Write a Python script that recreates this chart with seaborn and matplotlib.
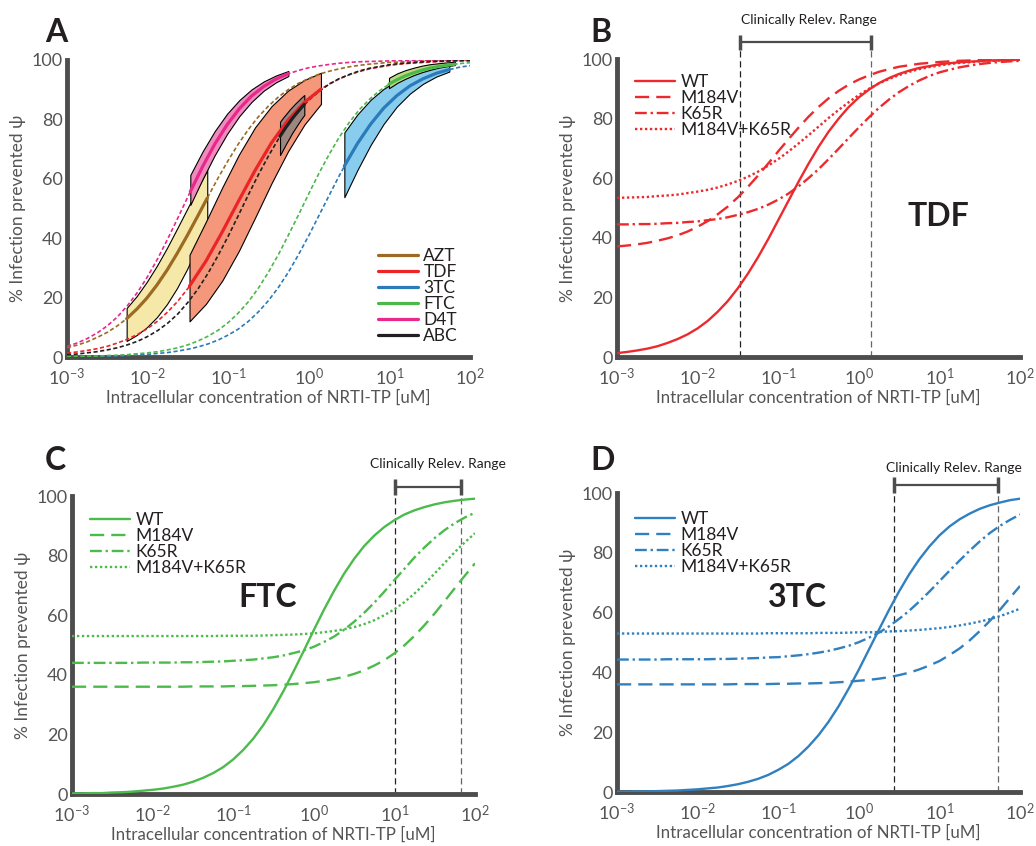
import numpy as np
import pandas as pd
import matplotlib
matplotlib.use('Agg')
import matplotlib.pyplot as plt
import seaborn as sns
from matplotlib.ticker import LogLocator, NullFormatter

# ---------------- data ----------------
log_conc = [-3.0, -2.875, -2.75, -2.625, -2.5, -2.375, -2.25, -2.125, -2.0, -1.875,
            -1.75, -1.625, -1.5, -1.375, -1.25, -1.125, -1.0, -0.875, -0.75, -0.625,
            -0.5, -0.375, -0.25, -0.125, 0.0, 0.125, 0.25, 0.375, 0.5, 0.625,
            0.75, 0.875, 1.0, 1.125, 1.25, 1.375, 1.5, 1.625, 1.75, 1.875, 2.0]

# Panel A: wild-type dose-response of each NRTI (% infection prevented)
azt_curve = [3.1, 4.0, 5.1, 6.6, 8.3, 10.5, 13.1, 16.3, 20.1, 24.6, 29.6, 35.2, 41.3, 47.6, 54.0, 60.3,
             66.2, 71.7, 76.6, 80.9, 84.5, 87.6, 90.1, 92.2, 93.8, 95.2, 96.2, 97.0, 97.7, 98.2, 98.6,
             98.9, 99.2, 99.3, 99.5, 99.6, 99.7, 99.8, 99.8, 99.9, 99.9]
tdf_curve = [1.3, 1.7, 2.2, 2.8, 3.6, 4.7, 6.0, 7.6, 9.6, 12.1, 15.2, 18.8, 23.1, 28.0, 33.5, 39.5,
             45.9, 52.3, 58.7, 64.8, 70.5, 75.6, 80.0, 83.9, 87.1, 89.7, 91.9, 93.6, 95.0, 96.1, 97.0,
             97.6, 98.2, 98.6, 98.9, 99.1, 99.3, 99.5, 99.6, 99.7, 99.8]
tc3_curve = [0.1, 0.1, 0.2, 0.2, 0.3, 0.4, 0.5, 0.7, 0.9, 1.2, 1.5, 2.0, 2.6, 3.4, 4.4, 5.7,
             7.4, 9.4, 12.0, 15.2, 19.0, 23.5, 28.7, 34.6, 40.9, 47.6, 54.3, 60.9, 67.1, 72.8, 77.8,
             82.1, 85.8, 88.8, 91.2, 93.1, 94.7, 95.9, 96.8, 97.6, 98.1]
ftc_curve = [0.2, 0.2, 0.3, 0.3, 0.5, 0.6, 0.8, 1.1, 1.4, 1.8, 2.4, 3.1, 4.1, 5.4, 7.0, 9.0,
             11.6, 14.8, 18.6, 23.2, 28.6, 34.6, 41.2, 48.0, 55.0, 61.8, 68.1, 73.9, 78.9, 83.2, 86.7,
             89.6, 91.9, 93.8, 95.2, 96.3, 97.2, 97.9, 98.4, 98.8, 99.1]
d4t_curve = [3.6, 4.7, 6.2, 8.1, 10.5, 13.5, 17.3, 21.8, 27.1, 33.1, 39.8, 46.8, 54.0, 61.0, 67.6, 73.6,
             78.8, 83.2, 86.9, 89.8, 92.2, 94.0, 95.4, 96.5, 97.4, 98.0, 98.5, 98.9, 99.2, 99.4, 99.5,
             99.6, 99.7, 99.8, 99.8, 99.9, 99.9, 99.9, 100.0, 100.0, 100.0]
abc_curve = [0.8, 1.0, 1.4, 1.8, 2.4, 3.1, 4.1, 5.3, 6.9, 8.9, 11.4, 14.5, 18.4, 22.9, 28.2, 34.2,
             40.7, 47.6, 54.6, 61.4, 67.7, 73.5, 78.6, 82.9, 86.5, 89.4, 91.8, 93.7, 95.1, 96.3, 97.2,
             97.8, 98.4, 98.8, 99.0, 99.3, 99.5, 99.6, 99.7, 99.8, 99.8]

# Panel A: clinically relevant bands (log10 concentration, lower, centre, upper)
azt_band_x = [-2.26, -2.135, -2.01, -1.885, -1.76, -1.635, -1.51, -1.385, -1.26]
azt_band_low = [5.4, 7.4, 10.0, 13.4, 17.8, 23.2, 29.6, 37.0, 45.0]
azt_band_mid = [12.9, 16.1, 19.8, 24.2, 29.2, 34.8, 40.8, 47.1, 53.5]
azt_band_high = [16.5, 20.5, 25.3, 30.7, 36.7, 43.2, 49.8, 56.5, 63.0]
d4t_band_x = [-1.47, -1.318, -1.166, -1.014, -0.862, -0.71, -0.558, -0.406, -0.254]
d4t_band_low = [51.2, 59.9, 68.0, 75.1, 81.1, 85.9, 89.7, 92.5, 94.6]
d4t_band_mid = [55.7, 64.1, 71.7, 78.2, 83.6, 87.9, 91.1, 93.6, 95.4]
d4t_band_high = [61.3, 69.2, 76.1, 81.9, 86.5, 90.1, 92.8, 94.8, 96.3]
tdf_band_x = [-1.48, -1.276, -1.072, -0.868, -0.665, -0.461, -0.257, -0.053, 0.151]
tdf_band_low = [12.0, 17.9, 25.8, 35.7, 47.0, 58.6, 69.3, 78.3, 85.2]
tdf_band_mid = [23.9, 32.3, 42.2, 52.7, 62.9, 72.2, 79.8, 85.8, 90.2]
tdf_band_high = [34.4, 45.6, 57.2, 68.1, 77.4, 84.5, 89.7, 93.3, 95.7]
abc_band_x = [-0.357, -0.319, -0.282, -0.244, -0.207, -0.169, -0.131, -0.094, -0.056]
abc_band_low = [68.0, 69.9, 71.8, 73.6, 75.4, 77.0, 78.6, 80.1, 81.5]
abc_band_mid = [74.3, 75.9, 77.4, 78.8, 80.2, 81.5, 82.7, 83.9, 85.0]
abc_band_high = [79.2, 80.6, 81.8, 83.1, 84.2, 85.3, 86.3, 87.3, 88.2]
tc3_band_x = [0.441, 0.604, 0.767, 0.929, 1.092, 1.255, 1.418, 1.58, 1.743]
tc3_band_low = [53.8, 63.0, 71.4, 78.5, 84.3, 88.7, 92.0, 94.4, 96.1]
tc3_band_mid = [64.3, 71.9, 78.4, 83.8, 88.0, 91.3, 93.7, 95.5, 96.8]
tc3_band_high = [75.6, 81.7, 86.6, 90.3, 93.0, 95.1, 96.5, 97.6, 98.3]
ftc_band_x = [0.995, 1.097, 1.2, 1.302, 1.405, 1.507, 1.609, 1.712, 1.814]
ftc_band_low = [90.5, 92.3, 93.7, 94.9, 95.9, 96.7, 97.4, 97.9, 98.3]
ftc_band_mid = [91.9, 93.4, 94.7, 95.7, 96.6, 97.3, 97.8, 98.2, 98.6]
ftc_band_high = [94.0, 95.5, 96.6, 97.4, 98.1, 98.6, 98.9, 99.2, 99.4]

# Panels B-D: resistant variants
tdf_m184v = [37.1, 37.4, 37.8, 38.3, 39.0, 39.8, 40.8, 42.1, 43.7, 45.6, 47.9, 50.5, 53.6, 57.1, 60.9, 64.9,
             69.0, 73.0, 76.9, 80.6, 83.9, 86.8, 89.3, 91.4, 93.1, 94.5, 95.7, 96.6, 97.4, 97.9, 98.4,
             98.7, 99.0, 99.2, 99.4, 99.5, 99.7, 99.7, 99.8, 99.8, 99.9]
tdf_k65r = [44.5, 44.5, 44.6, 44.6, 44.7, 44.9, 45.0, 45.3, 45.5, 45.9, 46.3, 46.9, 47.7, 48.6, 49.7, 51.1,
            52.8, 54.8, 57.2, 60.0, 63.0, 66.4, 69.9, 73.5, 77.0, 80.4, 83.6, 86.4, 88.9, 91.0, 92.8,
            94.3, 95.5, 96.4, 97.2, 97.8, 98.3, 98.7, 99.0, 99.2, 99.4]
tdf_m184v_k65r = [53.4, 53.5, 53.6, 53.7, 54.0, 54.2, 54.5, 55.0, 55.5, 56.1, 56.9, 57.9, 59.1, 60.5, 62.2,
                  64.2, 66.4, 68.9, 71.6, 74.4, 77.3, 80.2, 82.9, 85.5, 87.9, 90.0, 91.8, 93.3, 94.6, 95.7,
                  96.6, 97.3, 97.8, 98.3, 98.7, 98.9, 99.2, 99.3, 99.5, 99.6, 99.7]
ftc_m184v = [36.0, 36.0, 36.0, 36.0, 36.0, 36.0, 36.0, 36.0, 36.0, 36.0, 36.0, 36.0, 36.1, 36.1, 36.1, 36.1,
             36.2, 36.2, 36.3, 36.4, 36.5, 36.7, 36.9, 37.2, 37.5, 38.0, 38.6, 39.3, 40.3, 41.5, 43.1,
             44.9, 47.2, 49.9, 53.1, 56.7, 60.6, 64.8, 69.1, 73.3, 77.4]
ftc_k65r = [44.0, 44.0, 44.0, 44.0, 44.0, 44.0, 44.0, 44.1, 44.1, 44.1, 44.1, 44.2, 44.2, 44.3, 44.4, 44.5,
            44.7, 44.9, 45.1, 45.5, 45.9, 46.5, 47.3, 48.2, 49.4, 51.0, 52.8, 55.1, 57.8, 60.8, 64.2,
            67.9, 71.8, 75.6, 79.4, 82.8, 85.9, 88.6, 90.9, 92.8, 94.4]
ftc_m184v_k65r = [53.0, 53.0, 53.0, 53.0, 53.0, 53.0, 53.0, 53.0, 53.0, 53.0, 53.0, 53.0, 53.0, 53.0, 53.0,
                  53.1, 53.1, 53.1, 53.1, 53.2, 53.3, 53.4, 53.5, 53.7, 53.9, 54.3, 54.7, 55.3, 56.0, 57.0,
                  58.3, 60.0, 62.0, 64.4, 67.3, 70.5, 74.0, 77.6, 81.2, 84.5, 87.5]
tc3_m184v = [36.0, 36.0, 36.0, 36.0, 36.0, 36.0, 36.0, 36.0, 36.0, 36.0, 36.0, 36.0, 36.1, 36.1, 36.1, 36.1,
             36.2, 36.2, 36.3, 36.3, 36.4, 36.5, 36.7, 36.9, 37.2, 37.5, 37.9, 38.4, 39.1, 39.9, 41.0,
             42.3, 43.8, 45.8, 48.0, 50.7, 53.8, 57.2, 60.9, 64.9, 68.9]
tc3_k65r = [44.3, 44.3, 44.3, 44.3, 44.3, 44.4, 44.4, 44.4, 44.4, 44.4, 44.5, 44.5, 44.6, 44.7, 44.8, 45.0,
            45.1, 45.4, 45.7, 46.1, 46.6, 47.2, 48.0, 48.9, 50.1, 51.6, 53.3, 55.4, 57.9, 60.6, 63.7,
            67.0, 70.5, 74.0, 77.4, 80.7, 83.8, 86.6, 89.0, 91.0, 92.8]
tc3_m184v_k65r = [53.0, 53.0, 53.0, 53.0, 53.0, 53.0, 53.0, 53.0, 53.0, 53.0, 53.0, 53.0, 53.0, 53.0, 53.0,
                  53.1, 53.1, 53.1, 53.1, 53.1, 53.2, 53.2, 53.2, 53.3, 53.4, 53.4, 53.5, 53.7, 53.8, 54.0,
                  54.2, 54.5, 54.8, 55.2, 55.7, 56.3, 57.0, 57.8, 58.8, 60.0, 61.3]

# Clinically relevant concentration ranges [uM]
tdf_range = [0.0332, 1.42]
ftc_range = [10.1, 67.0]
tc3_range = [2.71, 53.8]

drugs_A = ['AZT', 'TDF', '3TC', 'FTC', 'D4T', 'ABC']
variants = ['WT', 'M184V', 'K65R', 'M184V+K65R']
x_ticks = [1e-3, 1e-2, 1e-1, 1, 10, 100]
y_ticks = [0, 20, 40, 60, 80, 100]

# ---------------- styling ----------------
sns.set_theme(style='white')
plt.rcParams['font.family'] = ['Lato', 'DejaVu Sans']
plt.rcParams['mathtext.fontset'] = 'custom'
plt.rcParams['mathtext.rm'] = 'Lato'
plt.rcParams['mathtext.it'] = 'Lato:italic'
plt.rcParams['mathtext.bf'] = 'Lato:bold'

AXC = '#4d4d4d'
TXT = '#231F20'
colA = {'AZT': '#9C6B23', 'TDF': '#EC2428', '3TC': '#2B7BBA', 'FTC': '#4CB84A', 'D4T': '#E8288A', 'ABC': '#231F20'}
fillA = {'AZT': '#F6E8A8', 'TDF': '#F4977A', '3TC': '#88CDEE', 'FTC': '#BEDB7E', 'D4T': '#EE8CBE', 'ABC': '#9B8680'}
styles = {'WT': '-', 'M184V': (0, (6, 3)), 'K65R': (0, (5, 1.6, 1, 1.6)), 'M184V+K65R': (0, (1, 1.1))}

conc = 10 ** np.array(log_conc)
curveA = {'AZT': azt_curve, 'TDF': tdf_curve, '3TC': tc3_curve, 'FTC': ftc_curve, 'D4T': d4t_curve, 'ABC': abc_curve}
bandA = {
    'AZT': (azt_band_x, azt_band_low, azt_band_mid, azt_band_high),
    'D4T': (d4t_band_x, d4t_band_low, d4t_band_mid, d4t_band_high),
    'TDF': (tdf_band_x, tdf_band_low, tdf_band_mid, tdf_band_high),
    'ABC': (abc_band_x, abc_band_low, abc_band_mid, abc_band_high),
    '3TC': (tc3_band_x, tc3_band_low, tc3_band_mid, tc3_band_high),
    'FTC': (ftc_band_x, ftc_band_low, ftc_band_mid, ftc_band_high),
}

fig = plt.figure(figsize=(10.36, 8.46), dpi=100)
def mk(l, b, w, h):
    return fig.add_axes([l / 1036, 1 - b / 846, w / 1036, h / 846])
axA = mk(67, 357, 403, 297); axB = mk(617, 357, 403, 298)
axC = mk(72, 794, 403, 298); axD = mk(617, 792, 403, 299)

leg_kw = dict(loc='upper left', frameon=False, fontsize=12.5, handlelength=2.3, handletextpad=0.3,
              labelspacing=0.0, borderpad=0, borderaxespad=0, labelcolor=TXT)

# ---- Panel A ----
for k in ['AZT', 'D4T', 'TDF', 'ABC', '3TC', 'FTC']:
    bx, lo, mid, hi = bandA[k]
    axA.fill_between(10 ** np.array(bx), lo, hi, facecolor=fillA[k], edgecolor='black', linewidth=0.8, zorder=2)
for k in drugs_A:
    sns.lineplot(x=conc, y=curveA[k], ax=axA, color=colA[k], linewidth=1.2, linestyle=(0, (2.5, 1.5)), zorder=3)
for k in drugs_A:
    bx, lo, mid, hi = bandA[k]
    sns.lineplot(x=10 ** np.array(bx), y=mid, ax=axA, color=colA[k], linewidth=2.3, zorder=4, label=k)

# ---- Panels B-D ----
panels = [
    (axB, '#EC2A2E', [tdf_curve, tdf_m184v, tdf_k65r, tdf_m184v_k65r], 'TDF', tdf_range, 1.056, 1.131, 0.045, (10 ** 0.983, 47), 0.948),
    (axC, '#4CBB4C', [ftc_curve, ftc_m184v, ftc_k65r, ftc_m184v_k65r], 'FTC', ftc_range, 1.031, 1.107, 0.126, (10 ** -0.568, 66), 0.945),
    (axD, '#3080C0', [tc3_curve, tc3_m184v, tc3_k65r, tc3_m184v_k65r], '3TC', tc3_range, 1.026, 1.084, 0.10, (10 ** -0.767, 65.2), 0.94),
]
for ax, c, series, name, rng, ybr, ytx, toff, npos, legy in panels:
    df = pd.DataFrame({'conc': np.tile(conc, 4), 'val': np.concatenate(series),
                       'variant': np.repeat(variants, len(conc))})
    for lab in variants:
        sub = df[df['variant'] == lab]
        sns.lineplot(data=sub, x='conc', y='val', ax=ax, color=c, linewidth=1.7, linestyle=styles[lab], zorder=3, label=lab)
    tr = ax.get_xaxis_transform()
    for i, xv in enumerate(rng):
        ax.plot([xv, xv], [0, ybr], transform=tr, color='#222' if i == 0 else '#666', lw=0.9,
                linestyle=(0, (5, 3)), clip_on=False, zorder=2)
        ax.plot([xv, xv], [ybr - 0.026, ybr + 0.026], transform=tr, color=AXC, lw=2.5, clip_on=False,
                solid_capstyle='butt')
    ax.plot(list(rng), [ybr, ybr], transform=tr, color=AXC, lw=1.6, clip_on=False)
    ax.text(np.sqrt(rng[0] * rng[1]) * 10 ** toff, ytx, 'Clinically Relev. Range', transform=tr,
            ha='center', va='center', fontsize=10, color=TXT)
    ax.text(*npos, name, fontsize=23, fontweight='bold', color=TXT, ha='center', va='center')
    ax.legend(bbox_to_anchor=(0.045, legy), **leg_kw)

axA.legend(bbox_to_anchor=(0.772, 0.367), **leg_kw)

for ax in [axA, axB, axC, axD]:
    ax.set_xscale('log'); ax.set_xlim(1e-3, 1e2); ax.set_ylim(0, 100)
    for s in ['top', 'right']:
        ax.spines[s].set_visible(False)
    for s in ['left', 'bottom']:
        ax.spines[s].set_linewidth(3.5); ax.spines[s].set_color(AXC)
    ax.set_yticks(y_ticks)
    ax.set_xticks(x_ticks)
    ax.xaxis.set_minor_locator(LogLocator(base=10, subs=range(2, 10)))
    ax.xaxis.set_minor_formatter(NullFormatter())
    ax.tick_params(which='major', direction='in', length=5, width=3.5, color=AXC, labelsize=13, labelcolor='#555')
    ax.tick_params(axis='x', which='major', pad=7)
    ax.tick_params(axis='y', which='major', pad=3)
    ax.tick_params(axis='x', which='minor', direction='in', length=3.5, width=1.3, color=AXC)
    ax.set_xlabel('Intracellular concentration of NRTI-TP [uM]', fontsize=12.2, color='#555', labelpad=1)
    ax.set_ylabel('% Infection prevented ψ', fontsize=12.5, color='#555', labelpad=4)
    ax.grid(False)

for lab, (px, py) in zip('ABCD', [(45, 42), (590, 42), (45, 470), (590, 470)]):
    fig.text(px / 1036, 1 - py / 846, lab, fontsize=23, fontweight='bold', color=TXT, ha='left', va='baseline')

fig.savefig('out.png', dpi=100)
